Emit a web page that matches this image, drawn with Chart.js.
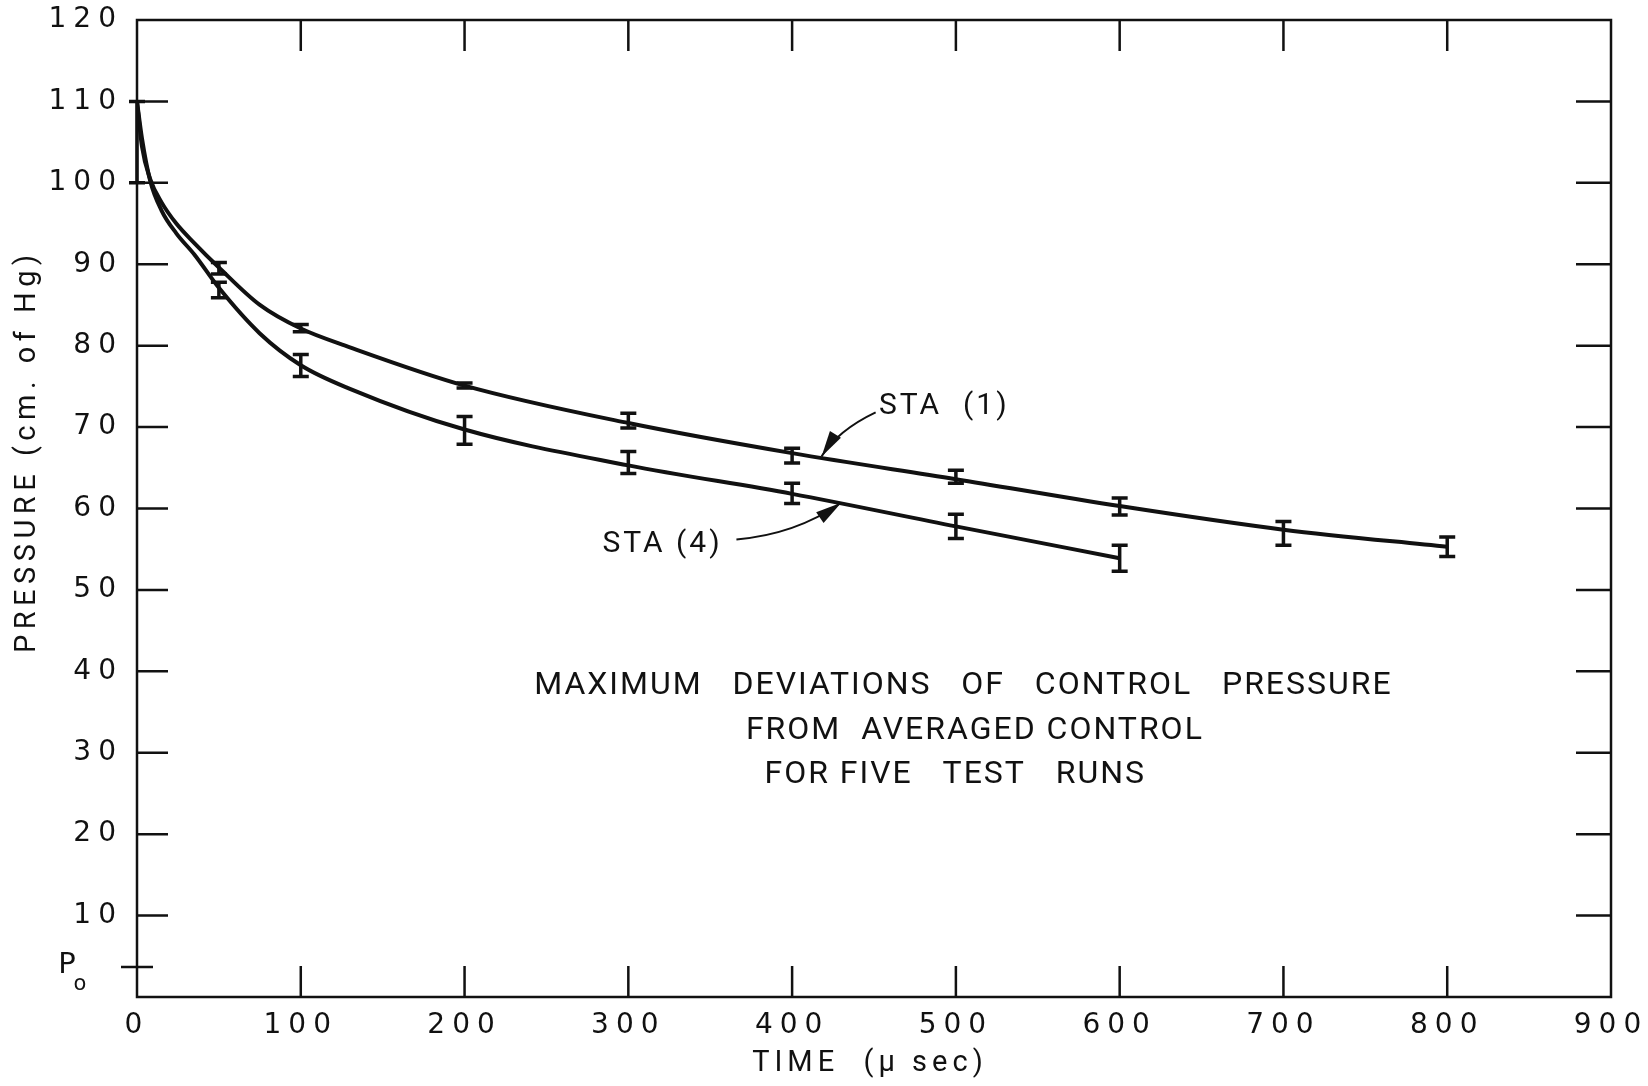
<!DOCTYPE html>
<html>
<head>
<meta charset="utf-8">
<script src="https://cdn.jsdelivr.net/npm/chart.js@4.4.1/dist/chart.umd.min.js"></script>
<style>
  html, body { margin: 0; padding: 0; background: #fff; }
  #wrap { width: 1648px; height: 1086px; }
</style>
</head>
<body>
<div id="wrap"><canvas id="chart-pressure"></canvas></div>
<script>
// curves (cm of Hg vs microseconds)
const sta1Time = [0, 3, 8, 15, 24, 35, 50, 75, 100, 130, 200, 300, 400, 500, 600, 700, 800];
const sta1Pressure = [110, 104.5, 100.5, 97.6, 95.0, 92.6, 89.6, 85.0, 82.1, 79.8, 75.1, 70.5, 66.8, 63.6, 60.3, 57.4, 55.3];
const sta4Time = [0, 3, 8, 15, 24, 35, 50, 75, 100, 130, 200, 300, 400, 500, 600];
const sta4Pressure = [110, 105.5, 100.3, 96.6, 93.8, 91.2, 87.1, 81.5, 77.6, 74.7, 69.7, 65.3, 61.8, 57.8, 53.9];

// max deviation bars
const sta1BarTime = [0, 50, 100, 200, 300, 400, 500, 600, 700, 800];
const sta1BarLow = [100, 88.8, 81.7, 74.8, 69.9, 65.6, 63.1, 59.2, 55.5, 54.1];
const sta1BarHigh = [110, 90.2, 82.6, 75.4, 71.7, 67.4, 64.7, 61.3, 58.4, 56.5];
const sta4BarTime = [50, 100, 200, 300, 400, 500, 600];
const sta4BarLow = [85.9, 76.2, 67.9, 64.3, 60.6, 56.3, 52.3];
const sta4BarHigh = [87.8, 78.9, 71.3, 67.0, 63.1, 59.3, 55.5];

// axes
const xTicks = [0, 100, 200, 300, 400, 500, 600, 700, 800, 900];
const yTicks = [10, 20, 30, 40, 50, 60, 70, 80, 90, 100, 110, 120];
const p0 = 3.7;

const INK = "#111";
const noteLines = [
  { text: "MAXIMUM   DEVIATIONS   OF   CONTROL   PRESSURE", t: 504, v: 38.2 },
  { text: "FROM  AVERAGED CONTROL", t: 511, v: 32.7 },
  { text: "FOR FIVE   TEST   RUNS", t: 499, v: 27.3 },
];

function toXY(times, values) {
  return times.map((t, i) => ({ x: t, y: values[i] }));
}

function spacedText(ctx, text, x, y, spacing) {
  ctx.letterSpacing = spacing + "px";
  // trailing spacing shifts centred text, put it back
  const shift = ctx.textAlign === "center" ? spacing / 2 : 0;
  ctx.fillText(text, x + shift, y);
}

function arrow(ctx, x, y, from, ctrl, tip) {
  const x0 = x.getPixelForValue(from[0]), y0 = y.getPixelForValue(from[1]);
  const cx = x.getPixelForValue(ctrl[0]), cy = y.getPixelForValue(ctrl[1]);
  const x1 = x.getPixelForValue(tip[0]), y1 = y.getPixelForValue(tip[1]);
  ctx.beginPath();
  ctx.moveTo(x0, y0);
  ctx.quadraticCurveTo(cx, cy, x1, y1);
  ctx.lineWidth = 2;
  ctx.stroke();

  const ang = Math.atan2(y1 - cy, x1 - cx);
  const len = 26, half = 6.5;
  ctx.beginPath();
  ctx.moveTo(x1, y1);
  ctx.lineTo(x1 - len * Math.cos(ang) + half * Math.sin(ang), y1 - len * Math.sin(ang) - half * Math.cos(ang));
  ctx.lineTo(x1 - len * Math.cos(ang) - half * Math.sin(ang), y1 - len * Math.sin(ang) + half * Math.cos(ang));
  ctx.closePath();
  ctx.fill();
}

const canvas = document.getElementById("chart-pressure");
const ctx = canvas.getContext("2d");

const paperPlot = {
  id: "paperPlot",
  beforeDraw(chart) {
    chart.ctx.letterSpacing = "7px"; // tick labels are widely spaced
  },
  afterDatasetsDraw(chart) {
    const { ctx, scales: { x, y } } = chart;
    ctx.save();
    ctx.strokeStyle = INK;
    ctx.lineWidth = 3.5;
    const bars = (times, lo, hi) =>
      times.forEach((t, i) => {
        const px = x.getPixelForValue(t);
        const y1 = y.getPixelForValue(lo[i]);
        const y2 = y.getPixelForValue(hi[i]);
        ctx.beginPath();
        ctx.moveTo(px, y1);
        ctx.lineTo(px, y2);
        ctx.moveTo(px - 8, y1);
        ctx.lineTo(px + 8, y1);
        ctx.moveTo(px - 8, y2);
        ctx.lineTo(px + 8, y2);
        ctx.stroke();
      });
    bars(sta1BarTime, sta1BarLow, sta1BarHigh);
    bars(sta4BarTime, sta4BarLow, sta4BarHigh);
    ctx.restore();
  },
  afterDraw(chart) {
    const { ctx, chartArea: a, scales: { x, y } } = chart;
    ctx.save();
    ctx.strokeStyle = INK;
    ctx.fillStyle = INK;
    ctx.lineWidth = 2.5;

    // frame + inward ticks on all four sides
    ctx.strokeRect(a.left, a.top, a.right - a.left, a.bottom - a.top);
    ctx.beginPath();
    xTicks.slice(1, -1).forEach((v) => {
      const px = x.getPixelForValue(v);
      ctx.moveTo(px, a.bottom);
      ctx.lineTo(px, a.bottom - 31);
      ctx.moveTo(px, a.top);
      ctx.lineTo(px, a.top + 31);
    });
    yTicks.slice(0, -1).forEach((v) => {
      const py = y.getPixelForValue(v);
      ctx.moveTo(a.left, py);
      ctx.lineTo(a.left + 31, py);
      ctx.moveTo(a.right, py);
      ctx.lineTo(a.right - 35, py);
    });
    const pp = y.getPixelForValue(p0);
    ctx.moveTo(a.left - 16, pp);
    ctx.lineTo(a.left + 16, pp);
    ctx.stroke();

    // P0 label
    ctx.textBaseline = "middle";
    ctx.textAlign = "center";
    ctx.font = '29px "DejaVu Sans"';
    spacedText(ctx, "P", a.left - 70, pp - 1, 0);
    ctx.font = '21px "DejaVu Sans"';
    spacedText(ctx, "o", a.left - 57, pp + 18, 0);

    // axis titles
    ctx.font = '29px Roboto';
    spacedText(ctx, "TIME  (\u03bc sec)", x.getPixelForValue(446), a.bottom + 67, 5);
    ctx.save();
    ctx.translate(28, y.getPixelForValue(66.7));
    ctx.rotate(-Math.PI / 2);
    spacedText(ctx, "PRESSURE (cm. of Hg)", 0, 0, 5.5);
    ctx.restore();

    // station labels with arrows
    ctx.font = '30px Roboto';
    spacedText(ctx, "STA  (1)", x.getPixelForValue(492), y.getPixelForValue(72.5), 3);
    spacedText(ctx, "STA (4)", x.getPixelForValue(320), y.getPixelForValue(55.6), 3);
    arrow(ctx, x, y, [451, 71.8], [428, 69.6], [418, 66.4]);
    arrow(ctx, x, y, [366, 56.2], [402, 56.8], [430, 60.7]);

    // note
    ctx.font = '32px Roboto';
    noteLines.forEach((n) => {
      spacedText(ctx, n.text, x.getPixelForValue(n.t), y.getPixelForValue(n.v), 2);
    });
    ctx.restore();
  },
};

const tickFont = { family: '"DejaVu Sans"', size: 28 };

new Chart(ctx, {
  type: "line",
  data: {
    datasets: [
      {
        label: "STA (1)",
        data: toXY(sta1Time, sta1Pressure),
        borderColor: INK,
        borderWidth: 4,
        pointRadius: 0,
        cubicInterpolationMode: "monotone",
        fill: false,
      },
      {
        label: "STA (4)",
        data: toXY(sta4Time, sta4Pressure),
        borderColor: INK,
        borderWidth: 4,
        pointRadius: 0,
        cubicInterpolationMode: "monotone",
        fill: false,
      },
    ],
  },
  options: {
    responsive: true,
    maintainAspectRatio: false,
    animation: false,
    layout: { padding: { top: 20, right: 37, left: 0, bottom: 0 } },
    plugins: { legend: { display: false }, tooltip: { enabled: false } },
    scales: {
      x: {
        type: "linear",
        min: 0,
        max: 900,
        grid: { display: false, drawTicks: false },
        border: { display: false },
        afterBuildTicks: (s) => { s.ticks = xTicks.map((v) => ({ value: v })); },
        afterFit: (s) => {
          s.height = 89;
          s.paddingLeft = 0;
          s.paddingRight = 0;
        },
        ticks: { color: INK, font: tickFont, padding: 12, maxRotation: 0, autoSkip: false },
      },
      y: {
        min: 0,
        max: 120,
        grid: { display: false, drawTicks: false },
        border: { display: false },
        afterBuildTicks: (s) => { s.ticks = yTicks.map((v) => ({ value: v })); },
        afterFit: (s) => {
          s.width = 137;
          s.paddingTop = 0;
          s.paddingBottom = 0;
        },
        ticks: { color: INK, font: tickFont, padding: 14, autoSkip: false },
      },
    },
  },
  plugins: [paperPlot],
});
</script>
</body>
</html>
